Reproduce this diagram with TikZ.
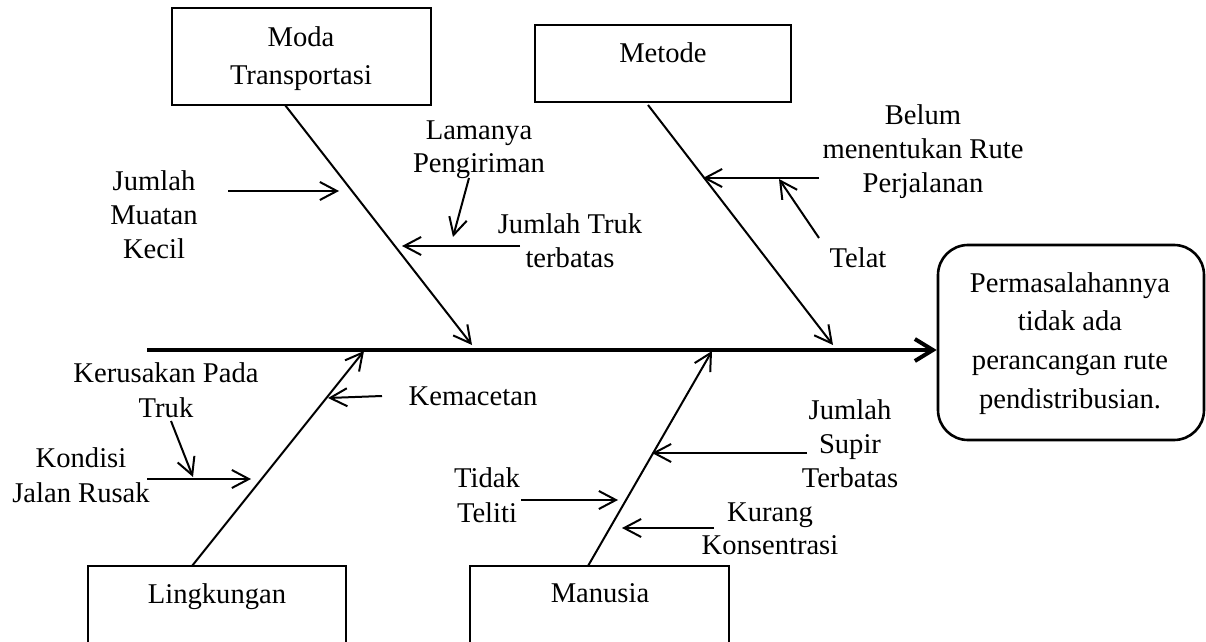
\documentclass[tikz,border=0pt]{standalone}
\usepackage{fontspec}
\setmainfont{Liberation Serif}
\usetikzlibrary{arrows.meta,fit}
\begin{document}
\begin{tikzpicture}[x=0.5pt,y=-0.5pt,
  txt/.style={font=\fontsize{14.3}{17}\selectfont, align=center, inner sep=0pt, anchor=north},
  lsk/.style={font=\fontsize{14.3}{#1}\selectfont},
  catbox/.style={draw, line width=1.3pt, inner sep=0pt},
  resbox/.style={draw, line width=1.3pt, inner sep=0pt, rounded corners=15pt},
  bone/.style={line width=1pt, -{Straight Barb[length=8.5pt,width=9pt]}},
  sub/.style={line width=1pt, -{Straight Barb[length=8.5pt,width=9pt]}},
  spine/.style={line width=2pt, -{Straight Barb[length=9pt,width=11pt]}}]
\useasboundingbox (0,0) rectangle (1206,642);
\fill[white] (0,0) rectangle (1206,642);
\clip (0,0) rectangle (1206,642);

% category boxes
\node[catbox, fit={(172,8) (431,105)}] (moda) {};
\node[catbox, fit={(535,25) (791,102)}] (metode) {};
\node[catbox, fit={(88,566) (346,670)}] (lingk) {};
\node[catbox, fit={(470,566) (729,670)}] (manusia) {};
\node[resbox, fit={(938,245) (1204,440)}] (res) {};

% category texts
\node[txt, lsk=19] (tmoda) at (301,26) {Moda\\Transportasi};
\node[txt] (tmetode) at (663,42) {Metode};
\node[txt] (tlingk) at (217,583) {Lingkungan};
\node[txt] (tmanusia) at (600,583) {Manusia};
\node[txt, lsk=19.35] (tres) at (1070,272) {Permasalahannya\\tidak ada\\perancangan rute\\pendistribusian.};

% cause texts
\node[txt, lsk=16.5] (tlama) at (479,120) {Lamanya\\Pengiriman};
\node[txt, lsk=17] (tmuatan) at (154,170) {Jumlah\\Muatan\\Kecil};
\node[txt, lsk=17] (ttruk) at (570,213) {Jumlah Truk\\terbatas};
\node[txt, lsk=17] (tbelum) at (923,104) {Belum\\menentukan Rute\\Perjalanan};
\node[txt] (ttelat) at (858,247) {Telat};
\node[txt, lsk=17.5] (tkerusakan) at (166,362) {Kerusakan Pada\\Truk};
\node[txt] (tkemacetan) at (473,386) {Kemacetan};
\node[txt, lsk=17.5] (tkondisi) at (81,447) {Kondisi\\Jalan Rusak};
\node[txt, lsk=17.5] (ttidak) at (487,467) {Tidak\\Teliti};
\node[txt, lsk=17] (tsupir) at (850,399) {Jumlah\\Supir\\Terbatas};
\node[txt, lsk=16.5] (tkurang) at (770,502) {Kurang\\Konsentrasi};

% coordinates
\coordinate (s0) at (147,350);
\coordinate (mb0) at (285,105);   \coordinate (mb1) at (472,345);
\coordinate (eb0) at (648,105);   \coordinate (eb1) at (833,345);
\coordinate (lb0) at (192,566);   \coordinate (lb1) at (364,351);
\coordinate (nb0) at (588,566);   \coordinate (nb1) at (712,351);

\coordinate (a1s) at (228,191);  \coordinate (a1e) at (339,191);
\coordinate (a2s) at (469,178);  \coordinate (a2e) at (453,237);
\coordinate (a3s) at (520,246);  \coordinate (a3e) at (402,246);
\coordinate (a4s) at (819,178);  \coordinate (a4e) at (703,178);
\coordinate (a5s) at (819,238);  \coordinate (a5e) at (779,179);
\coordinate (a6s) at (382,396);  \coordinate (a6e) at (328,398);
\coordinate (a7s) at (171,421);  \coordinate (a7e) at (193,477);
\coordinate (a8s) at (147,479);  \coordinate (a8e) at (251,479);
\coordinate (a9s) at (521,500);  \coordinate (a9e) at (618,500);
\coordinate (a10s) at (807,453); \coordinate (a10e) at (652,453);
\coordinate (a11s) at (714,528); \coordinate (a11e) at (622,528);

% spine
\draw[spine] (s0) -- (res.west |- s0);

% bones
\draw[bone] (mb0) -- (mb1);
\draw[bone] (eb0) -- (eb1);
\draw[bone] (lb0) -- (lb1);
\draw[bone] (nb0) -- (nb1);

% sub-cause arrows
\draw[sub] (a1s) -- (a1e);
\draw[sub] (a2s) -- (a2e);
\draw[sub] (a3s) -- (a3e);
\draw[sub] (a4s) -- (a4e);
\draw[sub] (a5s) -- (a5e);
\draw[sub] (a6s) -- (a6e);
\draw[sub] (a7s) -- (a7e);
\draw[sub] (a8s) -- (a8e);
\draw[sub] (a9s) -- (a9e);
\draw[sub] (a10s) -- (a10e);
\draw[sub] (a11s) -- (a11e);
\end{tikzpicture}
\end{document}
